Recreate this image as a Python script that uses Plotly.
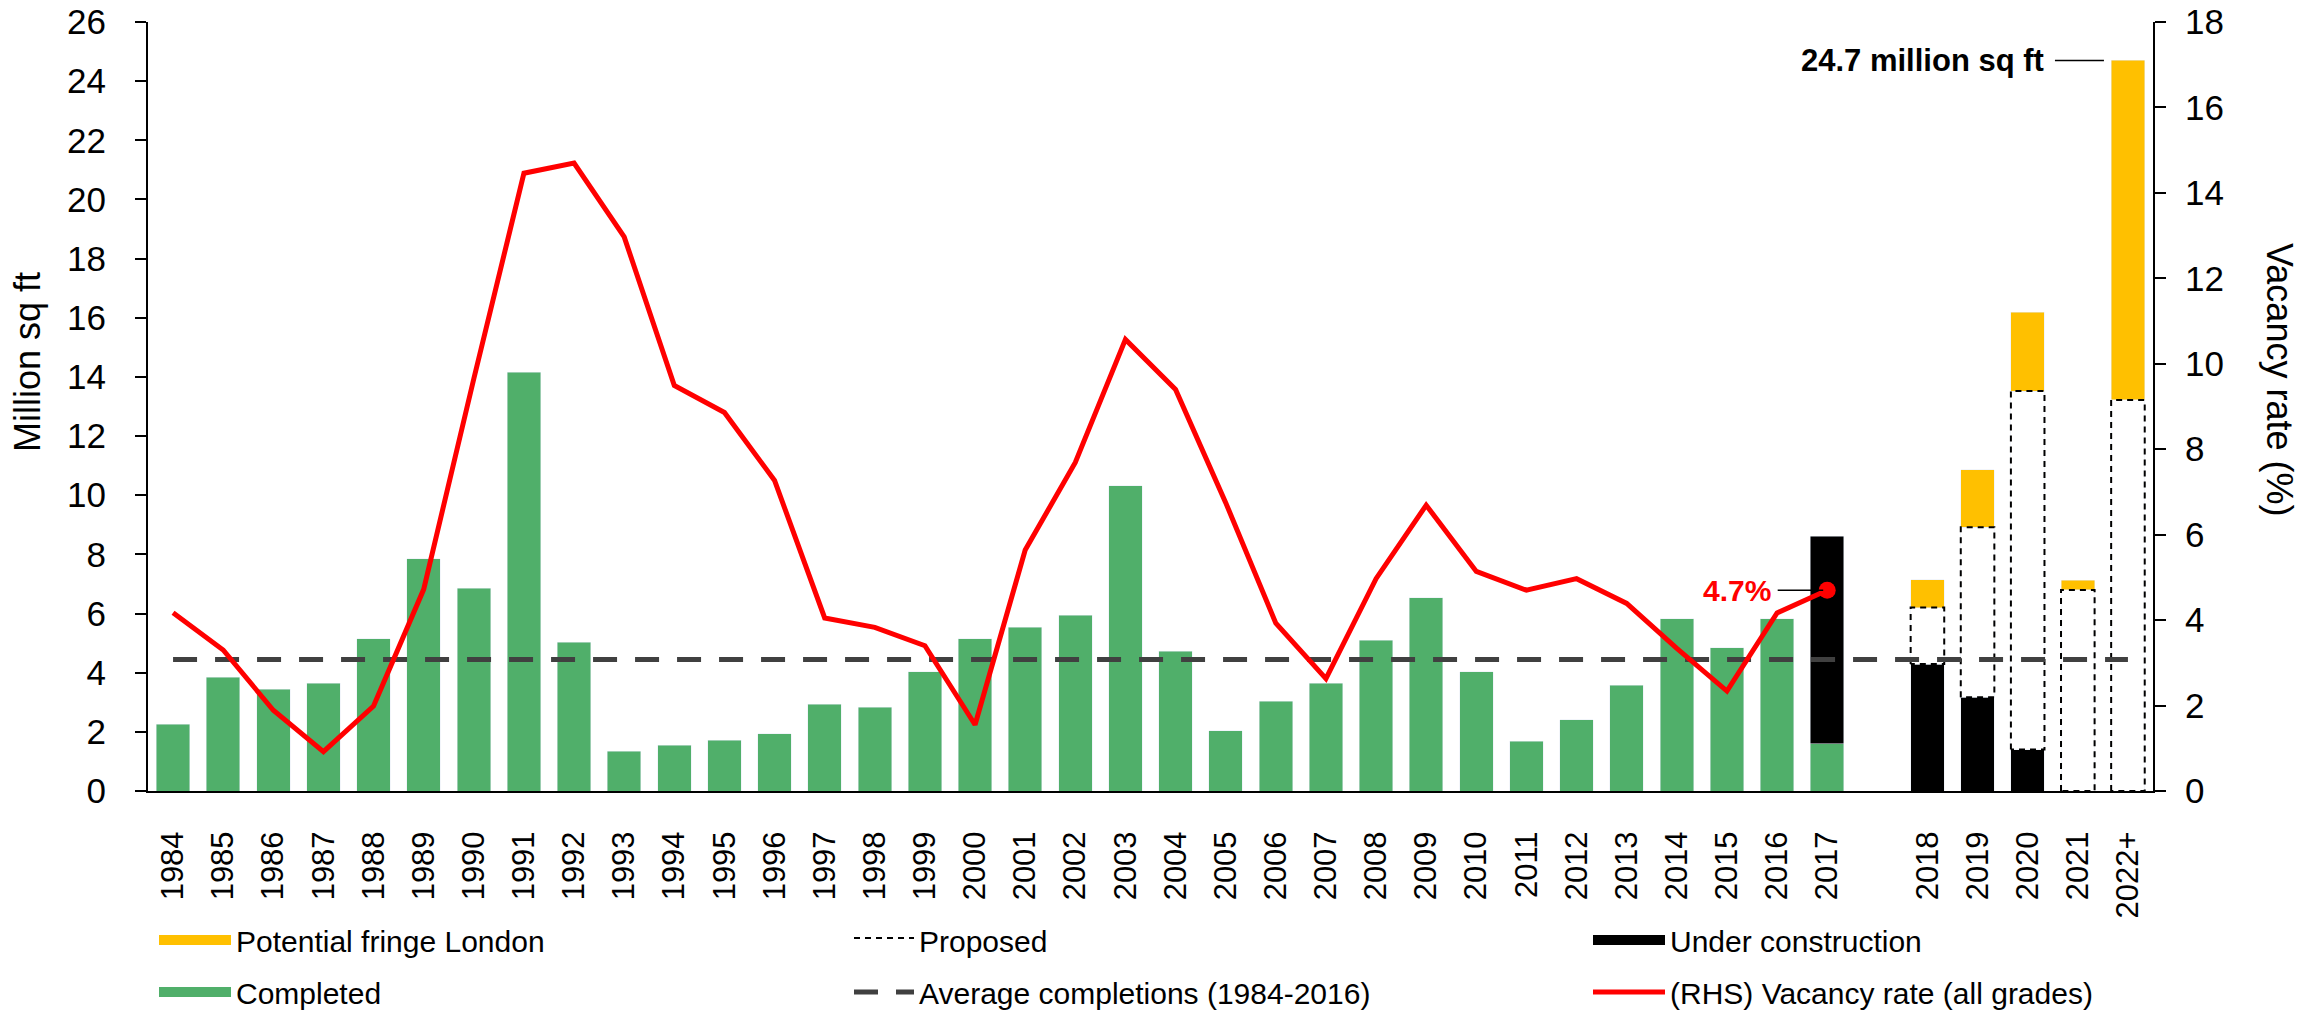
import plotly.graph_objects as go

#Categories: history 1984-2017, then one empty slot, then the pipeline years
years_hist = [str(y) for y in range(1984, 2018)]
years_pipe = ['2018', '2019', '2020', '2021', '2022+']

#Completions 1984-2017 (million sq ft)
completed = [2.25, 3.84, 3.44, 3.65, 5.14, 7.85, 6.86, 14.15, 5.03, 1.34,
             1.54, 1.72, 1.94, 2.93, 2.84, 4.03, 5.14, 5.53, 5.94, 10.32,
             4.73, 2.03, 3.04, 3.64, 5.09, 6.54, 4.03, 1.69, 2.41, 3.57,
             5.83, 4.85, 5.82, 1.60]

#Pipeline, 2017 under construction then 2018-2022+
under_construction_2017 = 7.02
under_construction = [4.29, 3.17, 1.40, 0.0, 0.0]
proposed = [1.91, 5.75, 12.12, 6.80, 13.22]
fringe = [0.95, 1.94, 2.67, 0.32, 11.48]

#Vacancy rate (all grades), % - right hand axis
vacancy = [4.17, 3.30, 1.89, 0.92, 1.99, 4.72, 9.65, 14.46, 14.70, 12.97,
           9.49, 8.86, 7.27, 4.05, 3.83, 3.40, 1.55, 5.64, 7.69, 10.57,
           9.40, 6.75, 3.93, 2.63, 4.97, 6.69, 5.14, 4.70, 4.97, 4.39,
           3.34, 2.34, 4.17, 4.70]

avg_completions = 4.45
total_label = '24.7 million sq ft'

#x positions (numeric so the empty slot between 2017 and 2018 is kept)
x_hist = list(range(len(years_hist)))
x_pipe = [len(years_hist) + 1 + i for i in range(len(years_pipe))]
x_all = x_hist + x_pipe
labels_all = years_hist + years_pipe

GREEN = '#50AF6A'
YELLOW = '#FFC000'
RED = '#FF0000'
FONT = 'Liberation Sans, Arial, sans-serif'
BARGAP = 0.33
bar_w = 1 - BARGAP

#the page body adds an 8px offset, so figure pixels = page pixels - 8
OFF = 8
W, H = 2324, 1010
L, R, T, B = 148 - OFF, W - 2153 + OFF, 22 - OFF, H - 791 + OFF
pw, ph = W - L - R, H - T - B

def paper_x(page_px):
    return (page_px - OFF - L) / pw

def paper_y(page_py):
    return (H - B - (page_py - OFF)) / ph

fig = go.Figure()

fig.add_trace(go.Bar(x=x_hist, y=completed, name='Completed', marker_color=GREEN, showlegend=False))
fig.add_trace(go.Bar(x=[x_hist[-1]] + x_pipe, y=[under_construction_2017] + under_construction,
                     name='Under construction', marker_color='black', showlegend=False))
fig.add_trace(go.Bar(x=x_pipe, y=proposed, name='Proposed', marker_color='white', showlegend=False))
fig.add_trace(go.Bar(x=x_pipe, y=fringe, name='Potential fringe London', marker_color=YELLOW,
                     showlegend=False))

#dashed outline for the proposed bars
ox, oy = [], []
for xi, uc, pr in zip(x_pipe, under_construction, proposed):
    ox += [xi - bar_w / 2, xi - bar_w / 2, xi + bar_w / 2, xi + bar_w / 2, xi - bar_w / 2, None]
    oy += [uc, uc + pr, uc + pr, uc, uc, None]
fig.add_trace(go.Scatter(x=ox, y=oy, mode='lines', name='Proposed', fill='toself',
                         fillcolor='rgba(255,255,255,0)',
                         line=dict(color='black', width=2, dash='6px,5px'),
                         legend='legend2', legendgroup='prop', legendrank=1))

fig.add_trace(go.Scatter(x=[x_all[0], x_all[-1]], y=[avg_completions, avg_completions], mode='lines',
                         name='Average completions (1984-2016)',
                         line=dict(color='#404040', width=5, dash='24px,18px'),
                         legend='legend2', legendgroup='avg', legendrank=2))

fig.add_trace(go.Scatter(x=x_hist, y=vacancy, mode='lines', name='(RHS) Vacancy rate (all grades)',
                         line=dict(color=RED, width=5), yaxis='y2',
                         legend='legend3', legendgroup='vac', legendrank=2))
fig.add_trace(go.Scatter(x=[x_hist[-1]], y=[vacancy[-1]], mode='markers', showlegend=False,
                         marker=dict(color=RED, size=17), yaxis='y2'))

#wide swatches for the bar series in the legend
for name, color, leg, rank in [('Potential fringe London', YELLOW, 'legend', 1),
                               ('Completed', GREEN, 'legend', 2),
                               ('Under construction', 'black', 'legend3', 1)]:
    fig.add_trace(go.Scatter(x=[None], y=[None], mode='lines', name=name,
                             line=dict(color=color, width=17),
                             legend=leg, legendgroup=name, legendrank=rank))

#labels
fig.add_annotation(x=x_hist[-1], y=vacancy[-1], yref='y2', text='<b>%.1f%%</b>' % vacancy[-1],
                   showarrow=True, arrowhead=0, arrowwidth=1.5, arrowcolor='black',
                   ax=-90, ay=0, standoff=4, borderpad=6,
                   font=dict(family=FONT, size=30, color=RED))
fig.add_annotation(x=x_pipe[-1], y=under_construction[-1] + proposed[-1] + fringe[-1],
                   text='<b>' + total_label + '</b>',
                   showarrow=True, arrowhead=0, arrowwidth=1.5, arrowcolor='black',
                   ax=-205, ay=0, standoff=24, borderpad=10,
                   font=dict(family=FONT, size=31, color='black'))

fig.add_annotation(x=paper_x(27), y=paper_y(362), xref='paper', yref='paper',
                   xanchor='center', yanchor='middle',
                   text='Million sq ft', textangle=-90, showarrow=False,
                   font=dict(family=FONT, size=36, color='black'))
fig.add_annotation(x=paper_x(2280), y=paper_y(379), xref='paper', yref='paper',
                   xanchor='center', yanchor='middle',
                   text='Vacancy rate (%)', textangle=90, showarrow=False,
                   font=dict(family=FONT, size=36, color='black'))

axis_style = dict(showline=True, linecolor='black', linewidth=2, showgrid=False, zeroline=False,
                  ticks='outside', ticklen=11, tickwidth=2, tickcolor='black', automargin=False,
                  ticklabeloverflow='allow', tickfont=dict(family=FONT, size=35, color='black'))

legend_style = dict(orientation='v', yanchor='top', xanchor='left', xref='container', yref='container',
                    y=1 - 906 / H, font=dict(family=FONT, size=30, color='black'),
                    bgcolor='rgba(0,0,0,0)', tracegroupgap=10, traceorder='grouped')

fig.update_layout(
    width=W, height=H,
    margin=dict(l=L, r=R, t=T, b=B, autoexpand=False),
    plot_bgcolor='white', paper_bgcolor='white',
    barmode='stack', bargap=BARGAP,
    font=dict(family=FONT, color='black'),
    xaxis=dict(range=[-0.5, x_all[-1] + 0.5], tickvals=x_all, ticktext=labels_all, tickangle=-90,
               showline=True, linecolor='black', linewidth=2, showgrid=False, zeroline=False,
               ticks='', automargin=False, tickfont=dict(family=FONT, size=31, color='black'),
               ticklabelstandoff=26),
    yaxis=dict(range=[0, 26], dtick=2, ticklabelstandoff=22, **axis_style),
    yaxis2=dict(range=[0, 18], dtick=2, overlaying='y', side='right', ticklabelstandoff=12,
                **axis_style),
    legend=dict(x=146 / W, itemwidth=72, **legend_style),
    legend2=dict(x=841 / W, itemwidth=60, **legend_style),
    legend3=dict(x=1580 / W, itemwidth=72, **legend_style),
)

fig.write_html("out.html")
